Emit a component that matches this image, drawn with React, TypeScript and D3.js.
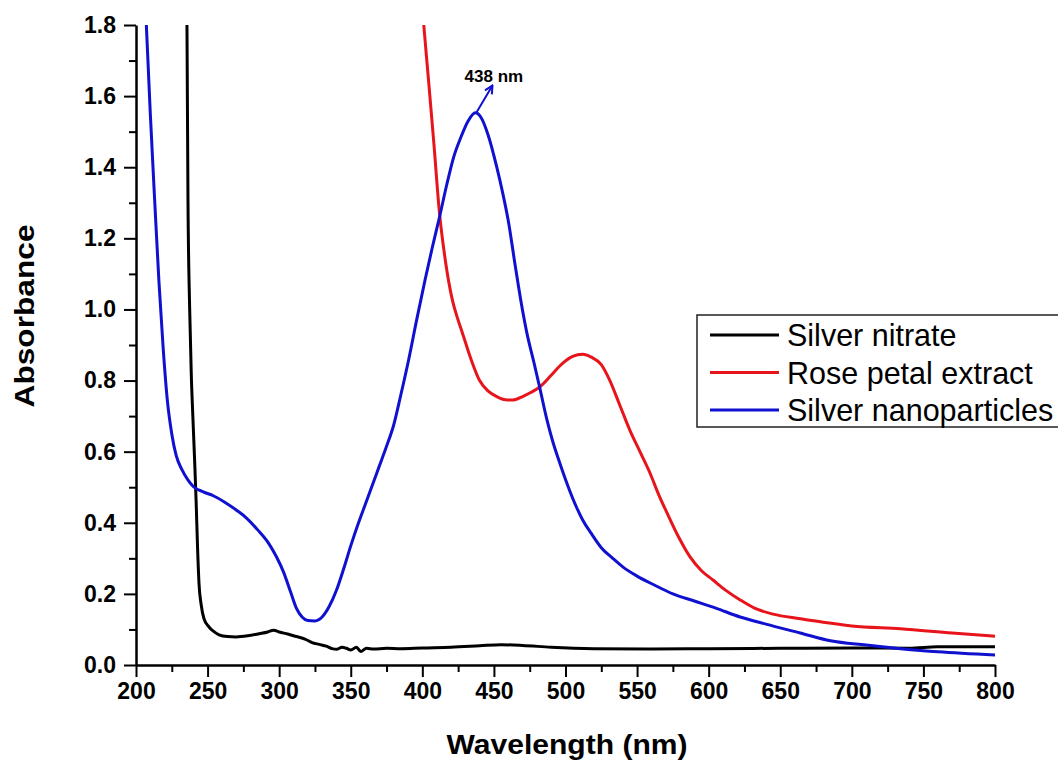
import React, { useEffect, useRef } from 'react';
import * as d3 from 'd3';

// wavelength (nm), absorbance pairs
const silverNitrate: [number, number][] = [
  [234.5, 2.2], [235.6, 1.8], [236.3, 1.31], [237.5, 1.0], [238.6, 0.82], [239.8, 0.69],
  [241, 0.57], [242, 0.46], [243, 0.33], [244, 0.23], [245.5, 0.17], [247.5, 0.13],
  [251, 0.107], [254, 0.095], [258, 0.085], [264, 0.08], [270, 0.079], [278, 0.082],
  [286, 0.088], [292, 0.093], [296, 0.098], [300, 0.093], [306, 0.087], [312, 0.08],
  [318, 0.073], [323, 0.063], [328, 0.058], [333, 0.053], [337, 0.046], [340, 0.044],
  [344, 0.05], [347, 0.047], [350, 0.042], [354, 0.05], [357, 0.038], [361, 0.047],
  [366, 0.045], [375, 0.047], [385, 0.046], [400, 0.048], [420, 0.05], [440, 0.054],
  [455, 0.057], [470, 0.055], [490, 0.05], [520, 0.046], [560, 0.045], [600, 0.046],
  [650, 0.047], [700, 0.048], [740, 0.047], [760, 0.051], [800, 0.051],
];

const rosePetal: [number, number][] = [
  [400, 1.85], [401, 1.8], [404, 1.66], [408, 1.47], [412, 1.27], [416, 1.14], [421, 1.026],
  [425, 0.97], [428, 0.934], [434, 0.86], [440, 0.8], [446, 0.77], [452, 0.755], [458, 0.746],
  [463, 0.745], [470, 0.755], [476, 0.767], [482, 0.782], [490, 0.815], [497, 0.845],
  [505, 0.868], [512, 0.874], [518, 0.866], [525, 0.845], [531, 0.8], [538, 0.73],
  [545, 0.66], [552, 0.6], [559, 0.54], [565, 0.48], [571, 0.427], [579, 0.36], [587, 0.304],
  [595, 0.265], [603, 0.239], [612, 0.21], [622, 0.183], [632, 0.16], [645, 0.143],
  [664, 0.13], [680, 0.12], [700, 0.11], [734, 0.102], [770, 0.09], [800, 0.081],
];

const nanoparticles: [number, number][] = [
  [207, 1.82], [210, 1.55], [213, 1.31], [216, 1.08], [219, 0.89], [222, 0.74], [225, 0.65],
  [228, 0.59], [232, 0.55], [236, 0.522], [240, 0.502], [247, 0.487], [254, 0.476],
  [262, 0.458], [270, 0.436], [277, 0.414], [285, 0.38], [293, 0.34], [298, 0.305],
  [303, 0.262], [308, 0.205], [312, 0.16], [316, 0.135], [320, 0.125], [325, 0.124],
  [330, 0.135], [335, 0.165], [340, 0.21], [345, 0.27], [350, 0.335], [355, 0.395], [360, 0.45],
  [365, 0.505], [370, 0.56], [375, 0.615], [380, 0.675], [385, 0.76], [390, 0.85], [396, 0.97],
  [402, 1.085], [407, 1.175], [412, 1.26], [417, 1.35], [422, 1.43], [427, 1.485], [432, 1.53],
  [437, 1.553], [441, 1.54], [446, 1.49], [452, 1.4], [456, 1.33], [460, 1.25], [465, 1.12],
  [469, 1.02], [473, 0.934], [478, 0.85], [482, 0.78], [487, 0.69], [491, 0.63], [496, 0.568],
  [502, 0.5], [507, 0.45], [512, 0.408], [518, 0.37], [525, 0.33], [533, 0.3], [540, 0.276],
  [550, 0.25], [562, 0.225], [575, 0.2], [590, 0.18], [605, 0.16], [622, 0.135], [640, 0.115],
  [664, 0.09], [685, 0.068], [710, 0.056], [734, 0.046], [760, 0.037], [800, 0.028],
];

const seriesNames = ['Silver nitrate', 'Rose petal extract', 'Silver nanoparticles'];
const seriesColors = ['#000000', '#e8141b', '#1010d0'];
const xTicks = [200, 250, 300, 350, 400, 450, 500, 550, 600, 650, 700, 750, 800];
const yTicks = [0, 0.2, 0.4, 0.6, 0.8, 1.0, 1.2, 1.4, 1.6, 1.8];
const peakLabel = '438 nm';

export default function App() {
  const svgRef = useRef<SVGSVGElement>(null);

  useEffect(() => {
    const width = 1058;
    const height = 762;
    const left = 136, right = 995, top = 25, bottom = 665;
    const font = '"Liberation Sans", Arial, sans-serif';

    const svg = d3.select(svgRef.current)
      .attr('width', width)
      .attr('height', height);
    svg.selectAll('*').remove();

    const x = d3.scaleLinear().domain([200, 800]).range([left, right]);
    const y = d3.scaleLinear().domain([0, 1.8]).range([bottom, top]);

    const defs = svg.append('defs');
    defs.append('clipPath').attr('id', 'plot-clip')
      .append('rect')
      .attr('x', left).attr('y', top)
      .attr('width', right - left + 5).attr('height', bottom - top);
    defs.append('marker')
      .attr('id', 'arrow')
      .attr('viewBox', '0 0 10 10')
      .attr('refX', 9).attr('refY', 5)
      .attr('markerWidth', 5).attr('markerHeight', 5)
      .attr('orient', 'auto')
      .append('path')
      .attr('d', 'M1,1 L9,5 L1,9')
      .attr('fill', 'none')
      .attr('stroke', '#1010d0')
      .attr('stroke-width', 2);

    const line = d3.line<[number, number]>()
      .x(d => x(d[0]))
      .y(d => y(d[1]))
      .curve(d3.curveMonotoneX);

    const allSeries = [silverNitrate, rosePetal, nanoparticles];
    svg.append('g').attr('clip-path', 'url(#plot-clip)')
      .selectAll('path')
      .data(allSeries)
      .join('path')
      .attr('d', d => line(d))
      .attr('fill', 'none')
      .attr('stroke', (d, i) => seriesColors[i])
      .attr('stroke-width', 3)
      .attr('stroke-linejoin', 'round');

    // minor ticks
    const xMinor = d3.range(225, 800, 50);
    const yMinor = d3.range(0.1, 1.8, 0.2);
    svg.append('g')
      .attr('transform', `translate(0,${bottom})`)
      .call(d3.axisBottom(x).tickValues(xMinor).tickSize(7).tickFormat(() => ''))
      .call(g => g.select('.domain').remove())
      .call(g => g.selectAll('line').attr('stroke-width', 2));
    svg.append('g')
      .attr('transform', `translate(${left},0)`)
      .call(d3.axisLeft(y).tickValues(yMinor).tickSize(7).tickFormat(() => ''))
      .call(g => g.select('.domain').remove())
      .call(g => g.selectAll('line').attr('stroke-width', 2));

    // major axes
    const xAxis = svg.append('g')
      .attr('transform', `translate(0,${bottom})`)
      .call(d3.axisBottom(x).tickValues(xTicks).tickSize(12).tickSizeOuter(0).tickPadding(6).tickFormat(d3.format('d')));
    const yAxis = svg.append('g')
      .attr('transform', `translate(${left},0)`)
      .call(d3.axisLeft(y).tickValues(yTicks).tickSize(12).tickSizeOuter(0).tickPadding(8).tickFormat(d3.format('.1f')));
    [xAxis, yAxis].forEach(g => {
      g.select('.domain').attr('stroke-width', 2.5);
      g.selectAll('line').attr('stroke-width', 2);
      g.selectAll('text')
        .attr('font-family', font)
        .attr('font-weight', 'bold')
        .attr('font-size', 23)
        .attr('fill', '#000');
    });

    // axis titles
    svg.append('text')
      .attr('x', 567)
      .attr('y', 754)
      .attr('text-anchor', 'middle')
      .attr('font-family', font)
      .attr('font-weight', 'bold')
      .attr('font-size', 28)
      .attr('textLength', 241)
      .attr('lengthAdjust', 'spacingAndGlyphs')
      .text('Wavelength (nm)');
    svg.append('text')
      .attr('transform', 'translate(34,316) rotate(-90)')
      .attr('text-anchor', 'middle')
      .attr('font-family', font)
      .attr('font-weight', 'bold')
      .attr('font-size', 27)
      .attr('textLength', 183)
      .attr('lengthAdjust', 'spacingAndGlyphs')
      .text('Absorbance');

    // peak annotation
    svg.append('line')
      .attr('x1', x(438)).attr('y1', y(1.555))
      .attr('x2', x(449)).attr('y2', y(1.63))
      .attr('stroke', '#1010d0')
      .attr('stroke-width', 2)
      .attr('marker-end', 'url(#arrow)');
    svg.append('text')
      .attr('x', x(450))
      .attr('y', y(1.64))
      .attr('text-anchor', 'middle')
      .attr('font-family', font)
      .attr('font-weight', 'bold')
      .attr('font-size', 17)
      .text(peakLabel);

    // legend
    const legend = svg.append('g').attr('transform', 'translate(697,315)');
    legend.append('rect')
      .attr('x', 0).attr('y', 0)
      .attr('width', 400).attr('height', 112)
      .attr('fill', '#fff')
      .attr('stroke', '#222')
      .attr('stroke-width', 1.5);
    const rows = legend.selectAll('g.row')
      .data(seriesNames)
      .join('g')
      .attr('class', 'row')
      .attr('transform', (d, i) => `translate(0,${20 + i * 37.5})`);
    rows.append('line')
      .attr('x1', 13).attr('x2', 82)
      .attr('stroke', (d, i) => seriesColors[i])
      .attr('stroke-width', 3);
    rows.append('text')
      .attr('x', 90)
      .attr('y', 11)
      .attr('font-family', font)
      .attr('font-size', 30.5)
      .text(d => d);
  }, []);

  return (
    <div style={{ position: 'absolute', left: 0, top: 0 }}>
      <svg ref={svgRef}></svg>
    </div>
  );
}
